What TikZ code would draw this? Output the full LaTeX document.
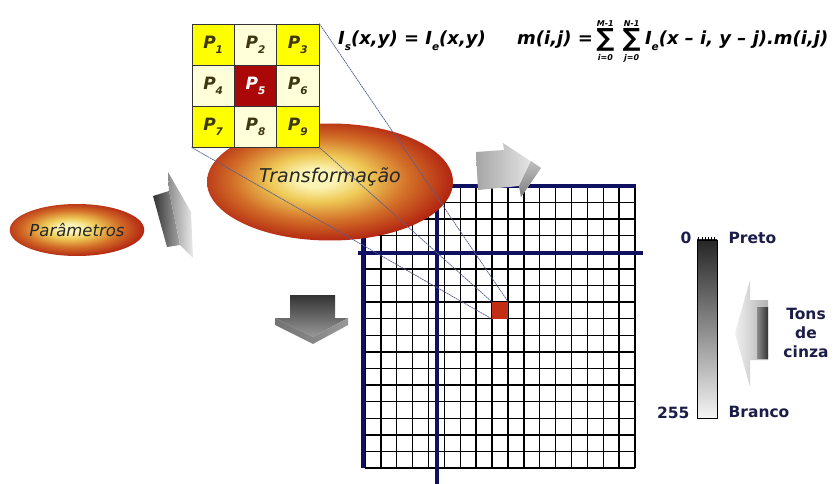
\documentclass[tikz,border=0pt]{standalone}
\usepackage{fontspec}
\usetikzlibrary{positioning,shapes.geometric}
\newfontfamily\dvs{DejaVu Sans}
\definecolor{navy}{RGB}{16,16,96}
\definecolor{cy}{RGB}{255,255,0}
\definecolor{cc}{RGB}{255,255,218}
\definecolor{cr}{RGB}{170,8,8}
\definecolor{ptxt}{RGB}{60,55,15}
\definecolor{lbl}{RGB}{28,28,72}
\definecolor{projc}{RGB}{85,95,150}
\definecolor{pixc}{RGB}{195,45,20}
\definecolor{eggA}{RGB}{252,244,180}
\definecolor{eggB}{RGB}{238,200,85}
\definecolor{eggC}{RGB}{210,110,40}
\definecolor{eggD}{RGB}{180,40,18}
\definecolor{eggE}{RGB}{125,15,8}
\pgfdeclareradialshading{egg}{\pgfpoint{-3bp}{2bp}}{color(0bp)=(eggA);color(4bp)=(eggA);color(10bp)=(eggB);color(18bp)=(eggC);color(26bp)=(eggD);color(34bp)=(eggE);color(50bp)=(eggE)}
\newcommand\lowidx[1]{\raisebox{-.3em}{\fontsize{10.5}{10.5}\selectfont#1}}
\tikzset{cell/.style={draw=black!80,line width=.8pt,minimum width=42.3pt,minimum height=41pt,inner sep=0pt,
   font=\dvs\bfseries\itshape\fontsize{17}{17}\selectfont,text=ptxt},
 ycell/.style={cell,fill=cy},ccell/.style={cell,fill=cc},rcell/.style={cell,fill=cr,text=white},
 egg/.style={ellipse,shade,shading=egg,inner sep=0pt,text=black!85},
 fml/.style={inner sep=0pt,font=\dvs\bfseries\itshape\fontsize{18}{18}\selectfont},
 sig/.style={inner sep=0pt,font=\dvs\bfseries\fontsize{25}{25}\selectfont},
 lim/.style={inner sep=0pt,font=\dvs\bfseries\itshape\fontsize{8}{8}\selectfont},
 tag/.style={inner sep=0pt,font=\dvs\bfseries\fontsize{15.5}{19}\selectfont,text=lbl,align=center},
 gline/.style={line width=1.4pt,black},nline/.style={line width=4.5pt,navy},
 proj/.style={draw=projc,line width=.7pt,dash pattern=on 2pt off .6pt}}
\begin{document}
\begin{tikzpicture}[x=1pt,y=-1pt]
\useasboundingbox[fill=white] (0,0) rectangle (839,484);
% image grid
\fill[white] (365,186) rectangle (635,468);
\foreach \i in {0,...,17}{\draw[gline] ({365+\i*270/17},186) -- ++(0,282);
 \draw[gline] (365,{186+\i*282/17}) -- ++(270,0);}
\draw[nline] (363,186) -- (636,186);\draw[nline] (363,186) -- (363,468);
\draw[nline] (358,253) -- (643,253);\draw[nline] (437,186) -- (437,484);
\node[fill=pixc,minimum width=15.9pt,minimum height=16.6pt,inner sep=0pt] (px) at (500,310.4) {};
% arrow to the grid
\shade[left color=black!35,right color=black!6] (476,152) -- (504,150) -- (503,143) -- (541,168) -- (521,197) -- (519,186) -- (478,190) -- cycle;
\shade[top color=black!25,bottom color=black!50] (531,161) -- (541,168) -- (521,197) -- (519,186) -- cycle;
% ellipses
\node[egg,minimum width=246pt,minimum height=117pt] (trans) at (330,182) {};
\node[inner sep=0pt,font=\dvs\itshape\fontsize{19}{19}\selectfont,text=black!85] (transt) at (330,177) {Transformação};
\node[egg,minimum width=132pt,minimum height=52pt,font=\dvs\itshape\fontsize{16.5}{16.5}\selectfont] (param) at (77,230) {Parâmetros};
% 3x3 mask
\foreach \n/\s in {1/ycell,2/ccell,3/ycell,4/ccell,5/rcell,6/ccell,7/ycell,8/ccell,9/ycell}{
 \pgfmathsetmacro\cx{213.15+42.3*mod(\n-1,3)}\pgfmathsetmacro\cy{44.5+41*int((\n-1)/3)}
 \node[\s] (p\n) at (\cx,\cy) {P\lowidx{\n}};}
\draw[proj] (p3.north east) -- (px.north east);
\draw[proj] (p9.south east) -- (px.north west);
\draw[proj] (p7.south west) -- (px.south west);
% formulas
\node[fml,anchor=base west] (fa) at (338,45) {I\lowidx{s}(x,y) = I\lowidx{e}(x,y)};
\node[fml,anchor=base west] (fb) at (517,45) {m(i,j) =};
\node[sig,anchor=base west] (s1) at ([xshift=3pt,yshift=-2pt]fb.base east) {∑};
\node[lim,above=2pt of s1] (s1u) {M-1};
\node[lim,below=2pt of s1] (s1l) {i=0};
\node[sig,anchor=base west] (s2) at ([xshift=8pt]s1.base east) {∑};
\node[lim,above=2pt of s2] (s2u) {N-1};
\node[lim,below=2pt of s2] (s2l) {j=0};
\node[fml,anchor=base west] (fc) at ([xshift=4pt]fb.base east -| s2.east) {I\lowidx{e}(x – i, y – j).m(i,j)};
% side arrows
\shade[left color=black!80,right color=black!35] (153,196) -- (169,191) -- (180,245) -- (167,247) -- cycle;
\shade[left color=black!45,right color=black!8] (168,172) -- (191,212) -- (193,258) -- (180,245) -- (169,191) -- cycle;
\shade[top color=black!80,bottom color=black!40] (290,295) -- (335,295) -- (335,318) -- (348,318) -- (313,337) -- (275,318) -- (290,318) -- cycle;
\shade[left color=black!55,right color=black!40] (275,318) -- (313,337) -- (348,318) -- (348,325) -- (313,344) -- (275,325) -- cycle;
% gray scale
\shade[left color=black!6,right color=black!30] (735,333) -- (750,280) -- (750,300) -- (768,300) -- (768,360) -- (750,360) -- (750,387) -- cycle;
\shade[left color=black!45,right color=black!80] (757,307) rectangle (768,358);
\node[draw=black,line width=.8pt,minimum width=20pt,minimum height=178pt,inner sep=0pt,
 top color=black!85,bottom color=black!4,middle color=black!45] (bar) at (707,329) {};
\foreach \t in {0,...,5}{\draw[line width=.6pt] ([xshift={(2+\t*3.2)*1pt}]bar.north west) -- ++(0,-3);}
\node[tag,anchor=east] (v0) at ([xshift=-5pt,yshift=2pt]bar.north west) {0};
\node[tag,anchor=west] (vpr) at ([xshift=11pt,yshift=2pt]bar.north east) {Preto};
\node[tag,anchor=east] (v255) at ([xshift=-7pt,yshift=6pt]bar.south west) {255};
\node[tag,anchor=west] (vbr) at ([xshift=11pt,yshift=6pt]bar.south east) {Branco};
\node[tag] (tons) at (806,333) {Tons\\de\\cinza};
\end{tikzpicture}
\end{document}
